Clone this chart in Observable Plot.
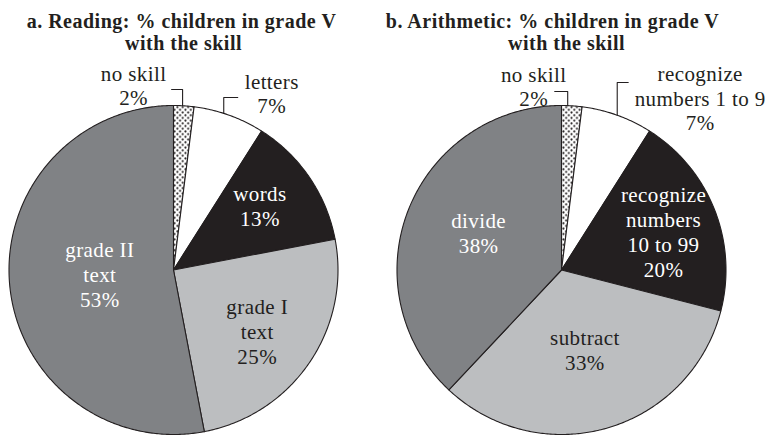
<!DOCTYPE html>
<html><head><meta charset="utf-8">
<script src="https://cdn.jsdelivr.net/npm/d3@7"></script>
<script src="https://cdn.jsdelivr.net/npm/@observablehq/plot@0.6"></script>
<style>
html,body{margin:0;padding:0;background:#fff;}
svg, svg text{font-family:"Liberation Serif", "Times New Roman", serif !important;}
svg g.lbl text{letter-spacing:0.4px;}
svg g.ttl text{letter-spacing:0.5px;}
</style></head><body><div id="chart"></div>
<script>
// ---- data ----
const readingSkills = ["no skill", "letters", "words", "grade I\ntext", "grade II\ntext"];
const readingPct = [2, 7, 13, 25, 53];
const arithSkills = ["no skill", "recognize\nnumbers 1 to 9", "recognize\nnumbers\n10 to 99", "subtract", "divide"];
const arithPct = [2, 7, 20, 33, 38];
const titleLines = [
  ["a. Reading: % children in grade V", "with the skill"],
  ["b. Arithmetic: % children in grade V", "with the skill"]
];

// ---- styles ----
const ink = "#231f20";
const sliceFills = ["url(#dots)", "#ffffff", "#231f20", "#bcbec0", "#808285"];
const labelInk = [ink, ink, "#ffffff", ink, "#ffffff"];
const FS = 21, LH = 1.19, TFS = 20;

// ---- layout ----
const pies = [
  {skills: readingSkills, pct: readingPct, titles: titleLines[0], cx: 173, cy: 269.5, r: 164.5,
   titleX: [181, 183], titleBase: [27, 49],
   inside: {2: {rf: 0.65, dx: -2, dy: -4}, 3: {rf: 0.63, dx: -2, dy: 3}, 4: {rf: 0.45, dx: 0, dy: -3}},
   outside: {0: {frac: 0.44, top: 89, run: -11, lx: -38, ly: -4.5}, 1: {frac: 0.42, top: 97, run: 14, lx: 34, ly: -4.5}}},
  {skills: arithSkills, pct: arithPct, titles: titleLines[1], cx: 561, cy: 269.5, r: 164.5,
   titleX: [552, 566], titleBase: [27, 49],
   inside: {2: {rf: 0.68, dx: -2, dy: 3}, 3: {rf: 0.51, dx: 0, dy: -1}, 4: {rf: 0.555, dx: 2, dy: -4}},
   outside: {0: {frac: 0.3, top: 91, run: -13, lx: -21, ly: -5.5}, 1: {frac: 0.5, top: 82, run: 11, lx: 72, ly: 15}}}
];

const polys = [], leaders = [], labels = [], titles = [];
pies.forEach((p, pi) => {
  const arcs = d3.pie().sort(null).value(d => d)(p.pct);
  const pt = (ang, rad) => ({x: p.cx + rad * Math.sin(ang), y: p.cy - rad * Math.cos(ang)});
  arcs.forEach((a, i) => {
    const id = pi + "-" + i;
    polys.push({id, fill: sliceFills[i], x: p.cx, y: p.cy});
    const n = Math.max(2, Math.ceil((a.endAngle - a.startAngle) / 0.01));
    for (let k = 0; k <= n; k++) {
      const q = pt(a.startAngle + (a.endAngle - a.startAngle) * k / n, p.r);
      polys.push({id, fill: sliceFills[i], ...q});
    }
    polys.push({id, fill: sliceFills[i], x: p.cx, y: p.cy});
    const text = p.skills[i] + "\n" + p.pct[i] + "%";
    if (p.inside[i]) {
      const L = p.inside[i];
      const mid = (a.startAngle + a.endAngle) / 2;
      const q = pt(mid, L.rf * p.r);
      labels.push({x: q.x + L.dx, y: q.y + L.dy, text, ink: labelInk[i]});
    } else {
      const L = p.outside[i];
      const ang = a.startAngle + (a.endAngle - a.startAngle) * L.frac;
      const rim = pt(ang, p.r);
      const lid = "L" + id;
      leaders.push({id: lid, x: rim.x, y: rim.y});
      leaders.push({id: lid, x: rim.x, y: L.top});
      leaders.push({id: lid, x: rim.x + L.run, y: L.top});
      labels.push({x: rim.x + L.run + L.lx, y: L.top + L.ly, text, ink: labelInk[i]});
    }
  });
  p.titles.forEach((t, j) => titles.push({x: p.titleX[j], y: p.titleBase[j] - 0.32 * TFS, text: t}));
});

const chart = Plot.plot({
  width: 772, height: 435, margin: 0,
  x: {domain: [0, 772], range: [0, 772], axis: null},
  y: {domain: [0, 435], range: [0, 435], axis: null},
  color: {type: "identity"},
  style: {background: "#fff", fontFamily: "Liberation Serif"},
  marks: [
    Plot.line(polys, {x: "x", y: "y", z: "id", fill: "fill", stroke: ink, strokeWidth: 1.1, strokeLinejoin: "round", curve: "linear"}),
    Plot.line(leaders, {x: "x", y: "y", z: "id", stroke: ink, strokeWidth: 1.1}),
    Plot.text(labels, {x: "x", y: "y", text: "text", fill: "ink", fontSize: FS, lineHeight: LH, fontFamily: "Liberation Serif", className: "lbl"}),
    Plot.text(titles, {x: "x", y: "y", text: "text", fill: ink, fontSize: TFS, fontWeight: "bold", fontFamily: "Liberation Serif", className: "ttl"})
  ]
});
const ns = "http://www.w3.org/2000/svg";
const defs = document.createElementNS(ns, "defs");
defs.innerHTML = '<pattern id="dots" width="5.4" height="5.4" patternUnits="userSpaceOnUse"><rect width="5.4" height="5.4" fill="#fff"/><circle cx="1.35" cy="1.35" r="1.05" fill="#231f20"/><circle cx="4.05" cy="4.05" r="1.05" fill="#231f20"/></pattern>';
chart.insertBefore(defs, chart.firstChild);
document.getElementById("chart").appendChild(chart);
</script></body></html>
